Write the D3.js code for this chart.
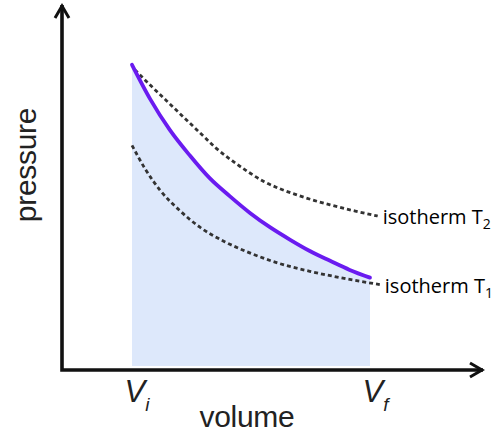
<!DOCTYPE html>
<html><head><meta charset="utf-8">
<script src="https://cdn.jsdelivr.net/npm/d3@7"></script>
<style>html,body{margin:0;padding:0;background:#fff;} svg{display:block}</style>
</head><body>
<script>
// Adiabatic process curve (purple) — volume / pressure
const volumeAdiabat   = [1.00, 1.26, 1.54, 1.83, 2.11, 2.40, 2.69, 2.97, 3.26, 3.54, 3.83, 4.11, 4.40];
const pressureAdiabat = [4.36, 3.87, 3.43, 3.06, 2.74, 2.48, 2.24, 2.04, 1.86, 1.70, 1.56, 1.43, 1.32];
// Isotherm T2 (upper dashed)
const volumeT2   = [1.04, 1.26, 1.50, 1.76, 1.97, 2.20, 2.43, 2.69, 2.87, 3.11, 3.36, 3.61, 3.83, 4.19, 4.51];
const pressureT2 = [4.29, 4.07, 3.84, 3.59, 3.39, 3.17, 2.99, 2.81, 2.70, 2.59, 2.50, 2.42, 2.36, 2.27, 2.20];
// Isotherm T1 (lower dashed)
const volumeT1   = [1.00, 1.19, 1.40, 1.69, 1.97, 2.33, 2.69, 3.11, 3.54, 3.97, 4.54];
const pressureT1 = [3.21, 2.87, 2.57, 2.27, 2.04, 1.83, 1.67, 1.52, 1.41, 1.32, 1.22];
// Tick labels
const tickVolumes = [1.0, 4.4];
const tickMain = ["V", "V"];
const tickSub  = ["i", "f"];
// Series labels
const isoLabels = ["isotherm T", "isotherm T"];
const isoSubs   = ["2", "1"];
const axisTitles = ["volume", "pressure"];

const W = 500, H = 432;
const svg = d3.select("body").append("svg").attr("width", W).attr("height", H);

const x = d3.scaleLinear().domain([0, 6]).range([62, 482]);
const y = d3.scaleLinear().domain([0, 5.2]).range([370, 6]);

const zip = (a, b) => a.map((v, i) => [v, b[i]]);
const adiabat = zip(volumeAdiabat, pressureAdiabat);
const t2 = zip(volumeT2, pressureT2);
const t1 = zip(volumeT1, pressureT1);

// shaded work area
const area = d3.area()
  .x(d => x(d[0]))
  .y0(y(0) - 4)
  .y1(d => y(d[1]))
  .curve(d3.curveMonotoneX);
svg.append("path").datum(adiabat).attr("d", area).attr("fill", "#dde8fb");

const line = d3.line().x(d => x(d[0])).y(d => y(d[1])).curve(d3.curveMonotoneX);

// isotherms
[t2, t1].forEach(s => {
  svg.append("path").datum(s).attr("d", line)
    .attr("fill", "none").attr("stroke", "#333")
    .attr("stroke-width", 2.8).attr("stroke-dasharray", "4,3");
});

// adiabat
svg.append("path").datum(adiabat).attr("d", line)
  .attr("fill", "none").attr("stroke", "#6a1bf0").attr("stroke-width", 3.8)
  .attr("stroke-linecap", "round");

// axes with arrows
const x0 = x(0), y0 = y(0), xEnd = x.range()[1] + 1, yEnd = y.range()[1] - 1;
const axisG = svg.append("g").attr("stroke", "#111").attr("fill", "none")
  .attr("stroke-width", 3.6).attr("stroke-linejoin", "miter");
axisG.append("path").attr("d", `M${x0},${y0}V${yEnd}M${x0 - 1.8},${y0}H${xEnd}`);
axisG.append("path").attr("stroke-width", 3)
  .attr("d", `M${x0 - 7},${yEnd + 13}L${x0},${yEnd + 1}L${x0 + 7},${yEnd + 13}`);
axisG.append("path").attr("stroke-width", 3)
  .attr("d", `M${xEnd - 13},${y0 - 7}L${xEnd - 1},${y0}L${xEnd - 13},${y0 + 7}`);

// tick labels V_i, V_f
const xAxis = d3.axisBottom(x).tickValues(tickVolumes).tickSize(0).tickFormat(() => "");
const gx = svg.append("g").attr("transform", `translate(0,${y0})`).call(xAxis);
gx.select(".domain").remove();
gx.selectAll(".tick text").remove();
gx.selectAll(".tick").each(function(d, i) {
  const t = d3.select(this).append("text")
    .attr("x", -8).attr("y", 32)
    .attr("text-anchor", "start")
    .attr("font-family", "Liberation Sans, Arial, sans-serif")
    .attr("font-style", "italic").attr("font-size", 31).attr("fill", "#222");
  t.append("tspan").text(tickMain[i]);
  t.append("tspan").attr("font-size", 19).attr("dy", 9).text(tickSub[i]);
});

// axis titles
svg.append("text").attr("x", 247).attr("y", 427).attr("text-anchor", "middle")
  .attr("font-family", "Liberation Sans, Arial, sans-serif").attr("font-size", 30)
  .attr("letter-spacing", -0.3).attr("fill", "#222").text(axisTitles[0]);
svg.append("text").attr("transform", "translate(36,165) rotate(-90)").attr("text-anchor", "middle")
  .attr("font-family", "Liberation Sans, Arial, sans-serif").attr("font-size", 30)
  .attr("letter-spacing", -0.3).attr("fill", "#222").text(axisTitles[1]);

// isotherm labels at series ends
[t2, t1].forEach((s, i) => {
  const last = s[s.length - 1];
  const t = svg.append("text")
    .attr("x", x(last[0]) + 5).attr("y", y(last[1]) + 8)
    .attr("font-family", "Open Sans, sans-serif").attr("font-size", 20).attr("fill", "#000");
  t.append("tspan").text(isoLabels[i]);
  t.append("tspan").attr("font-size", 14).attr("dy", 5).text(isoSubs[i]);
});
</script>
</body></html>
